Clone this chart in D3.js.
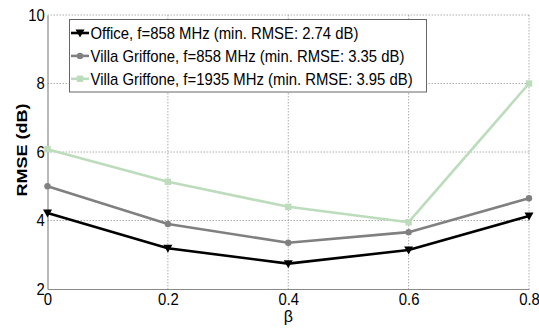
<!DOCTYPE html>
<html>
<head>
<meta charset="utf-8">
<script src="https://cdn.jsdelivr.net/npm/d3@7"></script>
<style>
  body { margin: 0; background: #fff; }
  svg { display: block; font-family: "Liberation Sans", Arial, sans-serif; }
</style>
</head>
<body>
<svg id="chart" width="539" height="329"></svg>
<script>
// RMSE versus beta for three measurement scenarios
const betas = [0, 0.2, 0.4, 0.6, 0.8];
const officeRmse = [4.22, 3.19, 2.74, 3.14, 4.13];
const villa858Rmse = [5.0, 3.9, 3.35, 3.66, 4.65];
const villa1935Rmse = [6.08, 5.13, 4.4, 3.95, 8.0];
const xTicks = [0, 0.2, 0.4, 0.6, 0.8];
const yTicks = [2, 4, 6, 8, 10];
const seriesNames = [
  "Office, f=858 MHz (min. RMSE: 2.74 dB)",
  "Villa Griffone, f=858 MHz (min. RMSE: 3.35 dB)",
  "Villa Griffone, f=1935 MHz (min. RMSE: 3.95 dB)"
];

const series = [
  { name: seriesNames[0], values: officeRmse, color: "#000000", marker: "triangleDown" },
  { name: seriesNames[1], values: villa858Rmse, color: "#808080", marker: "circle" },
  { name: seriesNames[2], values: villa1935Rmse, color: "#bcdcbc", marker: "square" }
];

const svg = d3.select("#chart");
const plotLeft = 47.5, plotRight = 529, plotTop = 15, plotBottom = 289;
const narrow = "scale(0.93,1)"; // slightly condensed lettering

const x = d3.scaleLinear().domain([0, 0.8]).range([plotLeft, plotRight]);
const y = d3.scaleLinear().domain([2, 10]).range([plotBottom, plotTop]);

// dotted grid
const grid = svg.append("g").attr("stroke", "#999").attr("stroke-width", 0.8)
  .attr("stroke-dasharray", "1.5,1.5");
grid.selectAll("line.v").data(xTicks.slice(1)).join("line")
  .attr("x1", d => x(d)).attr("x2", d => x(d))
  .attr("y1", plotTop).attr("y2", plotBottom);
grid.selectAll("line.h").data(yTicks.slice(1)).join("line")
  .attr("x1", plotLeft).attr("x2", plotRight)
  .attr("y1", d => y(d)).attr("y2", d => y(d));

// axes
const xAxis = svg.append("g").attr("transform", `translate(0,${plotBottom})`)
  .call(d3.axisBottom(x).tickValues(xTicks).tickFormat(d3.format("")).tickSize(0).tickPadding(5));
const yAxis = svg.append("g").attr("transform", `translate(${plotLeft},0)`)
  .call(d3.axisLeft(y).tickValues(yTicks).tickFormat(d3.format("d")).tickSize(0).tickPadding(3));
[xAxis, yAxis].forEach(a => {
  a.select(".domain").attr("stroke", "#8a8a8a").attr("stroke-width", 1.2);
  a.selectAll("text").attr("font-size", 16).attr("fill", "#000")
    .attr("font-family", "'Liberation Sans', Arial, sans-serif")
    .attr("transform", narrow);
});

// axis titles
svg.append("text").attr("x", x(0.4)).attr("y", 322).attr("text-anchor", "middle")
  .attr("font-size", 16).text("β");
svg.append("text").attr("transform", `translate(27,150) rotate(-90)`)
  .attr("text-anchor", "middle").attr("font-size", 15).attr("font-weight", "bold")
  .attr("textLength", 93).attr("lengthAdjust", "spacingAndGlyphs")
  .text("RMSE (dB)");

function drawMarker(sel, kind, color) {
  if (kind === "triangleDown") {
    sel.append("path").attr("d", "M-4.5,-3.5 L4.5,-3.5 L0,4.5 Z").attr("fill", color);
  } else if (kind === "circle") {
    sel.append("circle").attr("r", 3.2).attr("fill", color);
  } else {
    sel.append("rect").attr("x", -3.2).attr("y", -3.2).attr("width", 6.4).attr("height", 6.4).attr("fill", color);
  }
}

const line = d3.line().x((d, i) => x(betas[i])).y(d => y(d));
series.slice().reverse().forEach(s => {
  svg.append("path").attr("d", line(s.values)).attr("fill", "none")
    .attr("stroke", s.color).attr("stroke-width", 2.6).attr("stroke-linejoin", "round");
  s.values.forEach((v, i) => {
    const g = svg.append("g").attr("transform", `translate(${x(betas[i])},${y(v)})`);
    drawMarker(g, s.marker, s.color);
  });
});

// legend
const legend = svg.append("g");
legend.append("rect").attr("x", 69.5).attr("y", 19.5).attr("width", 357).attr("height", 72.5)
  .attr("fill", "#fff").attr("stroke", "#666").attr("stroke-width", 1);
series.forEach((s, i) => {
  const cy = 33 + i * 22.9;
  legend.append("line").attr("x1", 71).attr("x2", 89).attr("y1", cy).attr("y2", cy)
    .attr("stroke", s.color).attr("stroke-width", 2.6);
  drawMarker(legend.append("g").attr("transform", `translate(80,${cy})`), s.marker, s.color);
  legend.append("text").attr("transform", `translate(90.5,${cy}) ${narrow}`)
    .attr("dy", "0.36em").attr("font-size", 16).text(s.name);
});
</script>
</body>
</html>
